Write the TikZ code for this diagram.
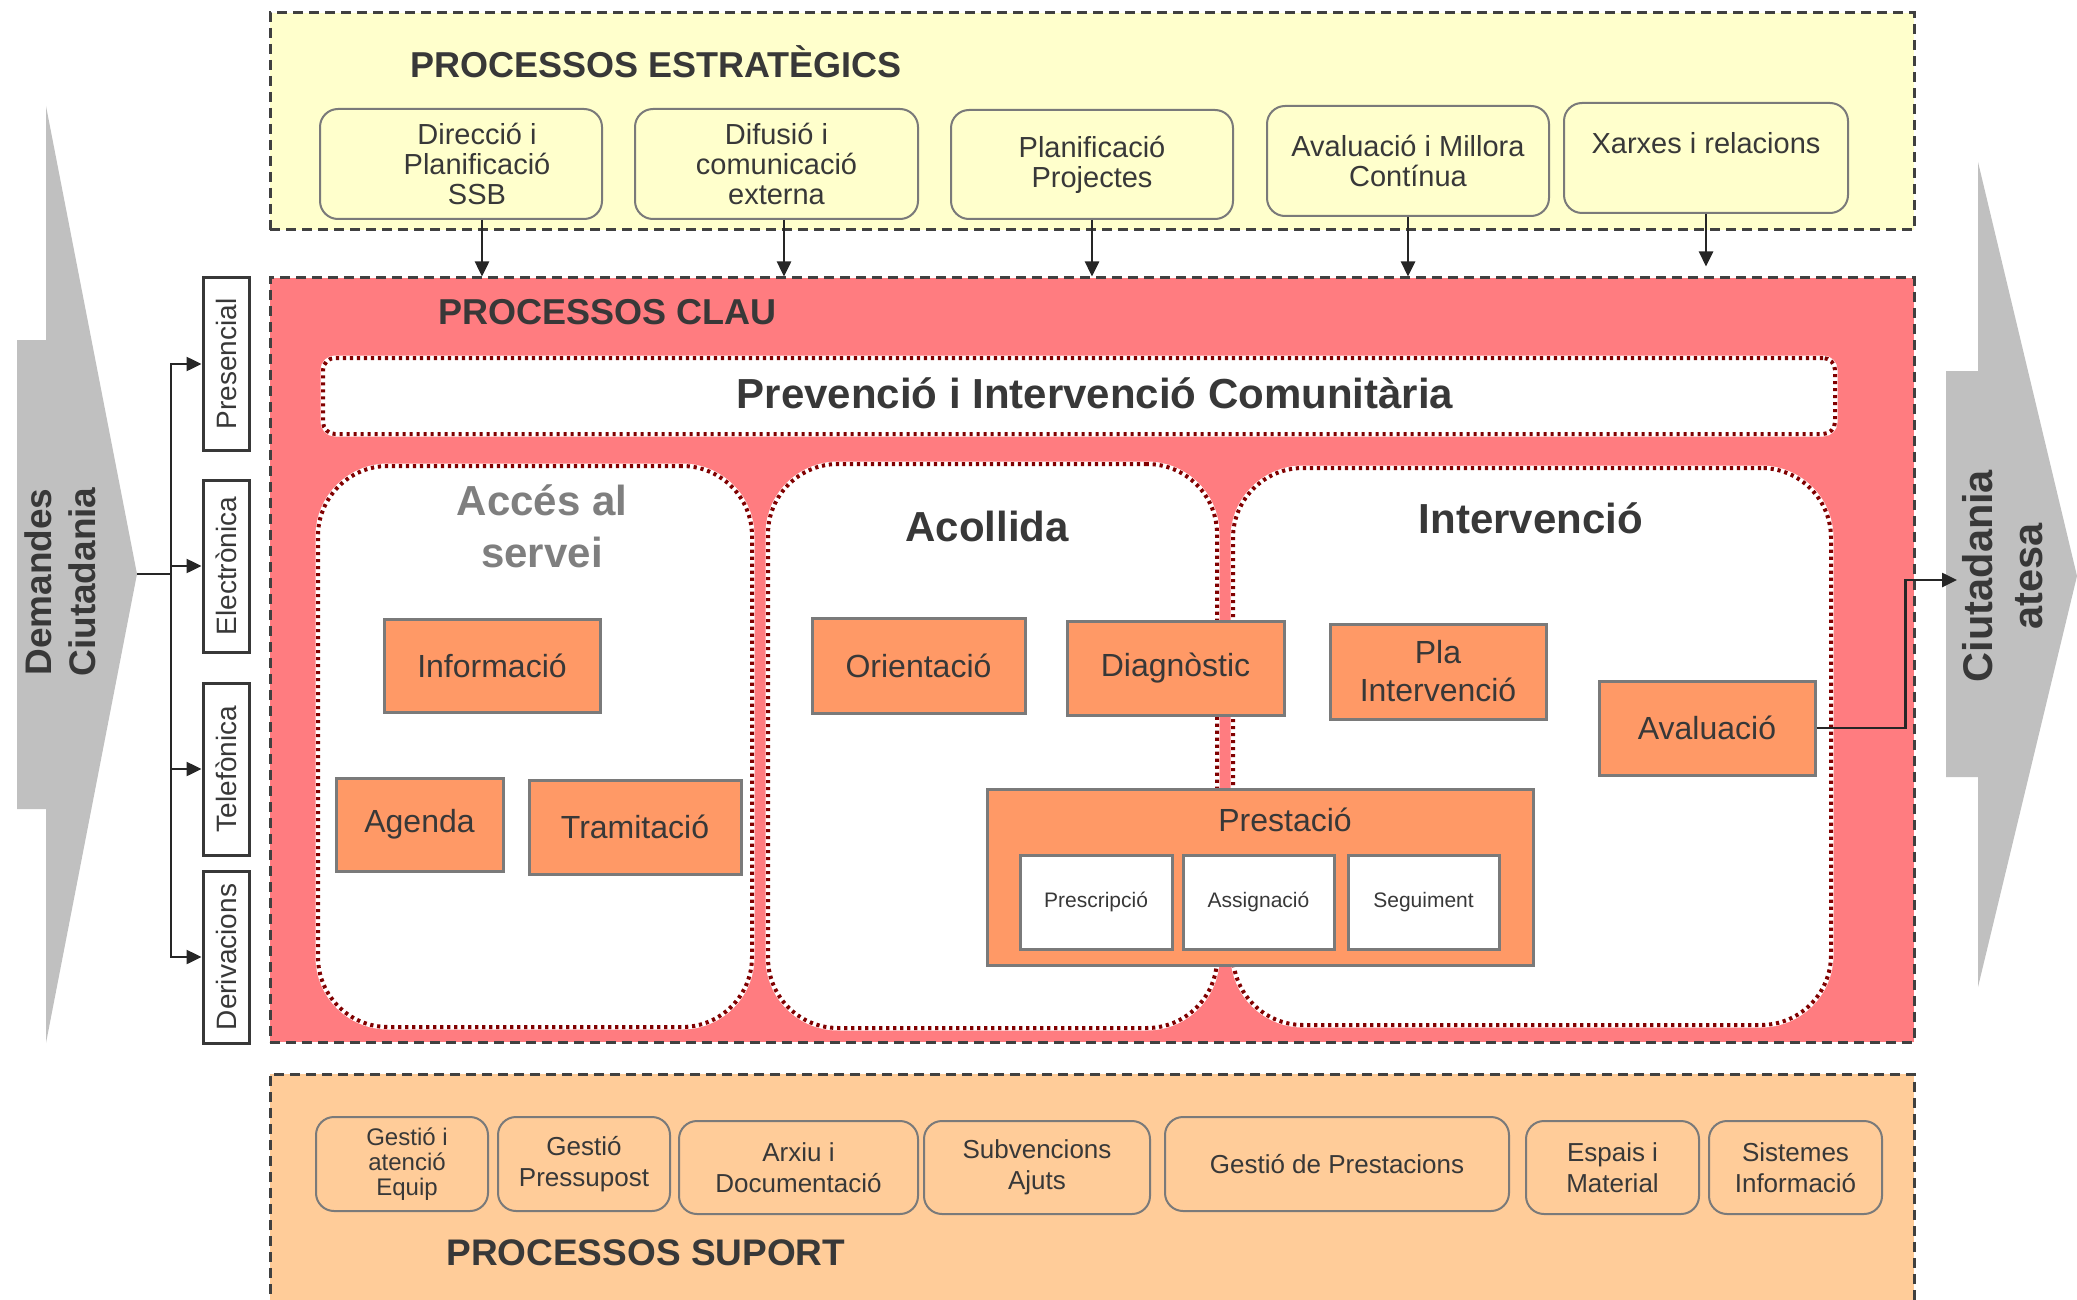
\documentclass[tikz,border=0pt]{standalone}
\usepackage{fontspec}
\setmainfont{Liberation Sans}
\usetikzlibrary{arrows.meta}
\definecolor{yel}{HTML}{FFFFCC}
\definecolor{redbg}{HTML}{FF7C80}
\definecolor{dotred}{HTML}{800000}
\definecolor{orng}{HTML}{FF9966}
\definecolor{peach}{HTML}{FFCC99}
\definecolor{arrgrey}{HTML}{C0C0C0}
\definecolor{txt}{HTML}{383838}
\definecolor{ttlgrey}{HTML}{7F7F7F}
\definecolor{bordgrey}{HTML}{7A7A7A}
\definecolor{dashc}{HTML}{404040}
\definecolor{arrc}{HTML}{262626}
\newcommand\fsz[2]{\fontsize{#1}{#2}\selectfont}
\newcommand\bx[7]{\node[#6,minimum width={(#4-#2)*0.5pt},minimum height={(#5-#3)*0.5pt}] (#1) at ({(#2+#4)/2},{(#3+#5)/2}) {#7};}
\begin{document}
\begin{tikzpicture}[x=0.5pt,y=-0.5pt,
  panel/.style={draw=dashc,line width=1.5pt,dash pattern=on 5pt off 3pt},
  strat/.style={draw=bordgrey,line width=1pt,fill=yel,rounded corners=9pt,align=center,text=txt,font=\fsz{14.5}{15},inner sep=0pt},
  supp/.style={draw=bordgrey,line width=1pt,fill=peach,rounded corners=9pt,align=center,text=txt,font=\fsz{13}{15.5},inner sep=0pt},
  obox/.style={draw=bordgrey,line width=1.5pt,fill=orng,align=center,text=txt,font=\fsz{16}{19},inner sep=0pt},
  wbox/.style={draw=bordgrey,line width=1.5pt,fill=white,text=txt,font=\fsz{10.5}{12},inner sep=0pt},
  chan/.style={draw=txt,line width=1.5pt,fill=white,text=txt,font=\fsz{14}{16},rotate=90,inner sep=0pt,minimum width=86pt,minimum height=23pt},
  col/.style={fill=white,draw=white,line width=2.5pt,rounded corners=35pt,inner sep=0pt,
    postaction={draw=dotred,line width=2pt,dash pattern=on 1.6pt off 1.9pt}},
  bar/.style={col,rounded corners=6pt},
  head/.style={font=\bfseries\fsz{18}{20},text=txt,inner sep=0pt},
  coltitle/.style={font=\bfseries\fsz{21}{26},text=txt,inner sep=0pt,align=center},
  conn/.style={draw=arrc,line width=1.25pt},
  arr/.style={conn,-{Triangle[length=7.5pt,width=7pt]}},
  bigarrow/.style={fill=arrgrey},
  bigtext/.style={rotate=90,align=center,text=txt,inner sep=0pt}
]
\useasboundingbox (0,0) rectangle (2077,1300);

% big grey arrows
\fill[bigarrow] (17,340) -- (46,340) -- (46,106) -- (137,574) -- (46,1043) -- (46,809) -- (17,809) -- cycle;
\fill[bigarrow] (1946,371) -- (1978,371) -- (1978,162) -- (2077,576) -- (1978,987) -- (1978,777) -- (1946,777) -- cycle;
\node[bigtext,font=\bfseries\fsz{18.5}{22}] (dem) at (60,582) {Demandes\\Ciutadania};
\node[bigtext,font=\bfseries\fsz{20.75}{25}] (ates) at (2003,576) {Ciutadania\\atesa};

% panels
\bx{estr}{270}{13}{1914}{230}{panel,fill=yel,inner sep=0pt}{}
\node[head,anchor=base west] (estrT) at (410,78) {PROCESSOS ESTRATÈGICS};
\bx{clau}{270}{278}{1914}{1042}{panel,fill=redbg,inner sep=0pt}{}
\node[head,anchor=base west] (clauT) at (438,324) {PROCESSOS CLAU};
\fill[peach] (270,1074) rectangle (1914,1300);
\draw[panel] (270,1310) -- (270,1074) -- (1914,1074) -- (1914,1310);
\node[head,anchor=base west,font=\bfseries\fsz{18.5}{20}] (supT) at (446,1265) {PROCESSOS SUPORT};

% strategic boxes
\bx{s1}{320}{109}{602}{219}{strat}{\hspace*{16pt}Direcció i\\\hspace*{16pt}Planificació\\\hspace*{16pt}SSB}
\bx{s2}{635}{109}{918}{219}{strat}{Difusió i\\comunicació\\externa}
\bx{s3}{951}{110}{1233}{219}{strat}{Planificació\\Projectes}
\bx{s4}{1267}{106}{1549}{216}{strat}{Avaluació i Millora\\Contínua}
\bx{s5}{1564}{103}{1848}{213}{strat}{Xarxes i relacions\\\mbox{}}
\draw[arr] ([xshift=10.5pt]s1.south) -- ([xshift=10.5pt]s1.south |- clau.north);
\draw[arr] ([xshift=3.75pt]s2.south) -- ([xshift=3.75pt]s2.south |- clau.north);
\draw[arr] (s3.south) -- (s3.south |- clau.north);
\draw[arr] (s4.south) -- (s4.south |- clau.north);
\draw[arr] (s5.south) -- ([yshift=5pt]s5.south |- clau.north);

% key processes
\bx{prev}{323}{358}{1835}{434}{bar}{}
\node[font=\bfseries\fsz{21}{24},text=txt,inner sep=0pt,anchor=base] (prevT) at (1095,408) {Prevenció i Intervenció Comunitària};
\bx{acc}{318}{466}{752}{1027}{col}{}
\bx{aco}{768}{464}{1217}{1028}{col}{}
\bx{int}{1233}{468}{1831}{1025}{col}{}
\node[coltitle,text=ttlgrey] (accT) at (542,526) {Accés al\\servei};
\node[coltitle,anchor=base] (acoT) at (987,541) {Acollida};
\node[coltitle,anchor=base] (intT) at (1531,533) {Intervenció};

\bx{info}{384}{619}{600}{712}{obox}{Informació}
\bx{agen}{336}{778}{503}{871}{obox}{Agenda}
\bx{tram}{529}{780}{741}{874}{obox}{Tramitació}
\bx{orie}{812}{618}{1025}{713}{obox}{Orientació}
\bx{diag}{1067}{621}{1284}{715}{obox}{Diagnòstic}
\bx{pla}{1330}{624}{1546}{719}{obox}{Pla\\Intervenció}
\bx{aval}{1599}{681}{1815}{775}{obox}{Avaluació}
\bx{prest}{987}{789}{1533}{965}{obox}{}
\node[font=\fsz{16}{19},text=txt,inner sep=0pt] (prestT) at (1285,820) {Prestació};
\bx{presc}{1020}{855}{1172}{949}{wbox}{Prescripció}
\bx{assig}{1183}{855}{1334}{949}{wbox}{Assignació}
\bx{segu}{1348}{855}{1499}{949}{wbox}{Seguiment}

% output connector
\coordinate (outR) at (1957,580);
\draw[arr] (aval.east) -- ++(89,0) |- (outR);

% channels
\node[chan] (pres) at (226,364) {Presencial};
\node[chan] (elec) at (226,566) {Electrònica};
\node[chan] (tele) at (226,769) {Telefònica};
\node[chan] (deri) at (226,957) {Derivacions};
\coordinate (tipL) at (137,574);
\coordinate (trunk) at (171,574);
\draw[conn] (tipL) -- (trunk);
\draw[arr] (trunk) |- (pres.north);
\draw[arr] (trunk) |- (elec.north);
\draw[arr] (trunk) |- (tele.north);
\draw[arr] (trunk) |- (deri.north);

% support boxes
\bx{g1}{316}{1117}{488}{1211}{supp,font=\fsz{12}{12.5}}{\hspace*{5pt}Gestió i\\\hspace*{5pt}atenció\\\hspace*{5pt}Equip}
\bx{g2}{498}{1117}{670}{1211}{supp}{Gestió\\Pressupost}
\bx{g3}{679}{1121}{918}{1214}{supp}{Arxiu i\\Documentació}
\bx{g4}{924}{1121}{1150}{1214}{supp}{Subvencions\\Ajuts}
\bx{g5}{1165}{1117}{1509}{1211}{supp}{Gestió de Prestacions}
\bx{g6}{1526}{1121}{1699}{1214}{supp}{Espais i\\Material}
\bx{g7}{1709}{1121}{1882}{1214}{supp}{Sistemes\\Informació}
\end{tikzpicture}
\end{document}
